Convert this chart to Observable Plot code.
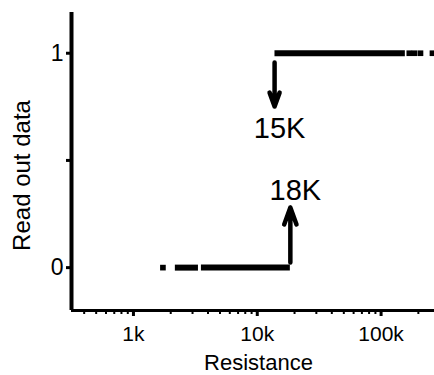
<!DOCTYPE html>
<html>
<head>
<meta charset="utf-8">
<script src="https://cdn.jsdelivr.net/npm/d3@7"></script>
<script src="https://cdn.jsdelivr.net/npm/@observablehq/plot@0.6"></script>
<style>
  html, body { margin: 0; padding: 0; background: #fff; }
  #chart svg { display: block; }
</style>
</head>
<body>
<div id="chart"></div>
<script>
// Read-out state 0 (low): continuous runs of points and isolated points (ohms)
const state0RunStart = [2180, 3540];
const state0RunEnd   = [3350, 18500];
const state0Dots     = [1730];
// Read-out state 1 (high)
const state1RunStart = [13900];
const state1RunEnd   = [157000];
const state1Dots     = [169000, 186000, 208000, 260000];

// Annotations (arrows at switching resistances)
const arrowLabels = ["15K", "18K"];
const arrowX      = [13800, 18500];
const arrowFrom   = [0.957, 0.024];
const arrowTo     = [0.752, 0.280];
const labelY      = [0.650, 0.357];

// Axis ticks
const xMajorTicks = [1000, 10000, 100000];
const xMinorTicks = [400, 500, 600, 700, 800, 900,
  2000, 3000, 4000, 5000, 6000, 7000, 8000, 9000,
  20000, 30000, 40000, 50000, 60000, 70000, 80000, 90000, 200000];
const yTicks = [0, 0.5, 1];
const yTickLabels = ["0", "", "1"];

const xDomain = [316, 270000];
const yDomain = [-0.2, 1.19];

const runs = [
  ...state0RunStart.map((s, i) => ({x1: s, x2: state0RunEnd[i], y: 0})),
  ...state1RunStart.map((s, i) => ({x1: s, x2: state1RunEnd[i], y: 1}))
];
const dots = [
  ...state0Dots.map(x => ({x, y: 0})),
  ...state1Dots.map(x => ({x, y: 1}))
];
const arrows = arrowX.map((x, i) => ({x, y1: arrowFrom[i], y2: arrowTo[i], label: arrowLabels[i], ly: labelY[i]}));

const font = "'Liberation Sans', Arial, Helvetica, sans-serif";

const chart = Plot.plot({
  width: 434,
  height: 375,
  marginLeft: 71,
  marginRight: 0,
  marginTop: 12,
  marginBottom: 65,
  style: {fontFamily: font, background: "#fff", color: "#000"},
  x: {type: "log", domain: xDomain},
  y: {domain: yDomain},
  marks: [
    // minor x ticks
    Plot.axisX({ticks: xMinorTicks, tickSize: 4, strokeWidth: 2, tickFormat: () => ""}),
    // major x ticks with labels
    Plot.axisX({ticks: xMajorTicks, tickSize: 6, strokeWidth: 3, tickPadding: 10, fontSize: 21,
      tickFormat: d => (d / 1000) + "k", label: null}),
    Plot.axisY({ticks: yTicks, tickSize: 5, strokeWidth: 3, tickPadding: 3, fontSize: 23,
      tickFormat: d => yTickLabels[yTicks.indexOf(d)], label: null}),
    // axis lines
    Plot.ruleX([xDomain[0]], {stroke: "#000", strokeWidth: 4}),
    Plot.ruleY([yDomain[0]], {stroke: "#000", strokeWidth: 3}),
    // data
    Plot.ruleY(runs, {x1: "x1", x2: "x2", y: "y", stroke: "#000", strokeWidth: 6}),
    Plot.dot(dots, {x: "x", y: "y", symbol: "square", r: 3.2, fill: "#000", stroke: "none"}),
    // annotations
    Plot.arrow(arrows, {x1: "x", x2: "x", y1: "y1", y2: "y2", stroke: "#000", strokeWidth: 4.5,
      headLength: 6, headAngle: 40, strokeLinecap: "round", strokeLinejoin: "round"}),
    Plot.text(arrows, {x: "x", y: "ly", text: "label", dx: 5, fontSize: 29, fill: "#000"}),
    // axis titles
    Plot.text(["Resistance"], {frameAnchor: "bottom", textAnchor: "middle", lineAnchor: "bottom",
      dx: 5.5, dy: 59, fontSize: 22, fill: "#000"}),
    Plot.text(["Read out data"], {frameAnchor: "left", textAnchor: "middle", lineAnchor: "middle",
      rotate: -90, dx: -49, dy: 14, fontSize: 24, fill: "#000"})
  ]
});
document.getElementById("chart").appendChild(chart);
</script>
</body>
</html>
